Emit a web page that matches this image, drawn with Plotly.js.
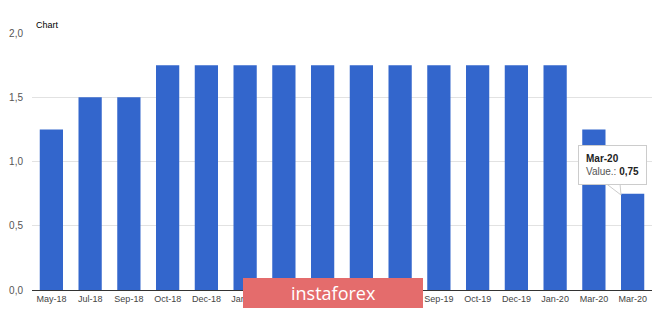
<!DOCTYPE html>
<html>
<head>
<meta charset="utf-8">
<script src="https://cdn.plot.ly/plotly-3.0.1.min.js"></script>
<style>html,body{margin:0;padding:0;background:#fff;}#chart{width:665px;height:309px;}</style>
</head>
<body>
<div id="chart"></div>
<script>
var categories = ["May-18","Jul-18","Sep-18","Oct-18","Dec-18","Jan-19","Mar-19","May-19","Jun-19","Jul-19","Sep-19","Oct-19","Dec-19","Jan-20","Mar-20","Mar-20"];
var values = [1.25,1.5,1.5,1.75,1.75,1.75,1.75,1.75,1.75,1.75,1.75,1.75,1.75,1.75,1.25,0.75];
var yTicks = [0,0.5,1,1.5,2];
var yTickText = ["0,0","0,5","1,0","1,5","2,0"];
var idx = categories.map(function(_, i){ return i; });
var last = values.length - 1;

// pixel -> paper helpers for decorations (plot area: x 32..652, y 33..290)
function px(x){ return (x - 32) / 620; }
function py(y){ return (290 - y) / 257; }

var trace = {
  type: 'bar',
  x: idx,
  y: values,
  marker: {color: '#3366cc'},
  hoverinfo: 'none'
};

var layout = {
  width: 665, height: 309,
  margin: {l: 32, r: 13, t: 33, b: 19},
  paper_bgcolor: '#ffffff',
  plot_bgcolor: '#ffffff',
  bargap: 0.4,
  showlegend: false,
  font: {family: 'Arial, Liberation Sans, sans-serif', size: 9, color: '#444'},
  title: {text: 'Chart', font: {size: 9, color: '#000'}, x: 36/665, xanchor: 'left', xref: 'container', y: 1 - 25/309, yanchor: 'middle', yref: 'container'},
  xaxis: {
    range: [-0.5, values.length - 0.5],
    tickmode: 'array', tickvals: idx, ticktext: categories,
    showgrid: false, zeroline: false,
    showline: true, linecolor: '#333', linewidth: 1,
    ticks: '', tickfont: {size: 9, color: '#444'}, fixedrange: true
  },
  yaxis: {
    range: [0, 2],
    tickmode: 'array', tickvals: yTicks, ticktext: yTickText,
    showgrid: true, gridcolor: '#e2e2e2', gridwidth: 1,
    zeroline: false, showline: false, ticks: '',
    ticklabelstandoff: 8,
    tickfont: {size: 10, color: '#555'}, fixedrange: true
  },
  shapes: [
    {type: 'rect', xref: 'paper', yref: 'paper', layer: 'above',
     x0: px(243), x1: px(423), y0: py(308), y1: py(278),
     fillcolor: '#e46c6c', line: {width: 0}},
    {type: 'path', xref: 'paper', yref: 'paper', layer: 'above',
     path: 'M ' + px(606) + ',' + py(183.5) + ' L ' + px(621) + ',' + py(195) + ' L ' + px(620) + ',' + py(183.5) + ' Z',
     fillcolor: '#ffffff', line: {color: '#cccccc', width: 1}}
  ],
  annotations: [
    {xref: 'paper', yref: 'paper', x: px(333), y: py(293),
     text: 'instaforex', showarrow: false, xanchor: 'center', yanchor: 'middle',
     font: {family: 'Open Sans, sans-serif', size: 18, color: '#ffffff'}},
    {xref: 'paper', yref: 'paper', x: px(612), y: py(165),
     text: '<b>Mar-20</b><br><span style="color:#555">Value.:</span> <b>0,75</b>', align: 'left',
     showarrow: false, xanchor: 'center', yanchor: 'middle',
     bgcolor: '#ffffff', bordercolor: '#cccccc', borderwidth: 1, borderpad: 7,
     font: {size: 10, color: '#222'}}
  ]
};

Plotly.newPlot('chart', [trace], layout, {displayModeBar: false, staticPlot: true});
</script>
</body>
</html>
